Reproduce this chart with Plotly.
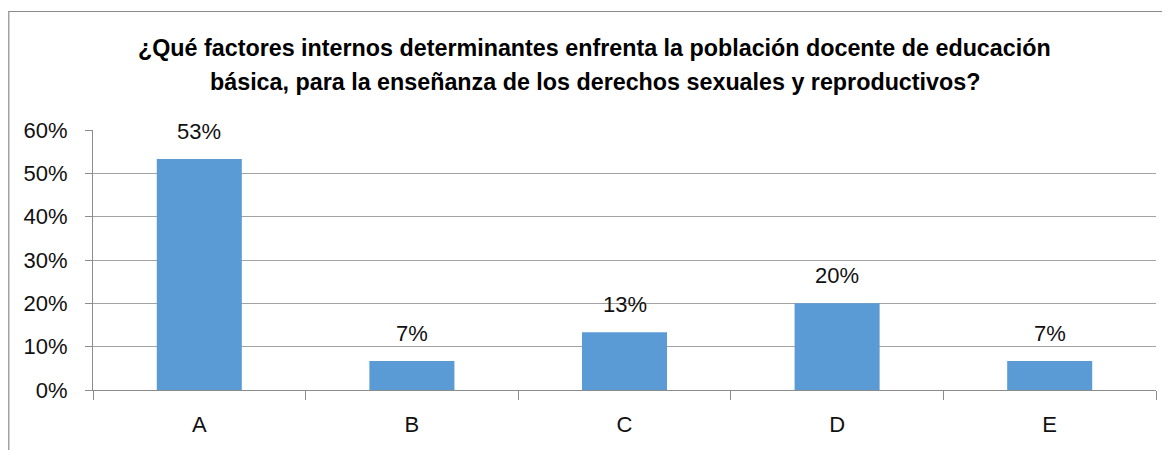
import plotly.graph_objects as go

categories = ["A", "B", "C", "D", "E"]
values = [0.533, 0.067, 0.133, 0.20, 0.067]
value_labels = ["53%", "7%", "13%", "20%", "7%"]
y_ticks = [0, 0.1, 0.2, 0.3, 0.4, 0.5, 0.6]
y_tick_labels = ["0%", "10%", "20%", "30%", "40%", "50%", "60%"]
title_lines = [
    "¿Qué factores internos determinantes enfrenta la población docente de educación",
    "básica, para la enseñanza de los derechos sexuales y reproductivos?",
]

OFF = 8  # page body margin offset
W, H = 1170 - OFF, 450 - OFF
L, R, T, B = 93 - OFF, 14, 130 - OFF, 60
pw, ph = W - L - R, H - T - B

def px_x(x):  # screen px -> paper x
    return (x - OFF - L) / pw

def px_y(y):  # screen px -> paper y
    return (H - B - (y - OFF)) / ph

FONT = "Liberation Sans"
BAR = "#5B9BD5"
GRID = "#a3a3a3"
AXIS = "#8c8c8c"
TXT = "#111111"

fig = go.Figure()
fig.add_trace(go.Bar(x=categories, y=values, marker=dict(color=BAR, line=dict(width=0)),
                     width=0.4, hoverinfo="skip"))

for c, v, t in zip(categories, values, value_labels):
    fig.add_annotation(x=c, y=v, text=t, showarrow=False, yanchor="bottom",
                       yshift=13, font=dict(family=FONT, size=22, color=TXT))

title_y = [48, 82]
for line, ypx in zip(title_lines, title_y):
    fig.add_annotation(xref="paper", yref="paper",
                       x=px_x(594.5), y=px_y(ypx),
                       text=f"<b>{line}</b>", showarrow=False,
                       xanchor="center", yanchor="middle",
                       font=dict(family=FONT, size=23.3, color="#000000"))

fig.add_shape(type="rect", xref="paper", yref="paper",
              x0=px_x(8.8), x1=px_x(1190),
              y0=px_y(480), y1=px_y(11.5),
              line=dict(color="#8a8a8a", width=1.2), fillcolor="rgba(0,0,0,0)", layer="below")

fig.update_layout(
    width=W, height=H,
    margin=dict(l=L, r=R, t=T, b=B),
    paper_bgcolor="white", plot_bgcolor="white",
    showlegend=False,
    bargap=0.6,
    xaxis=dict(type="category", tickson="boundaries", ticks="outside", ticklen=9,
               tickcolor=AXIS, showline=True, linecolor=AXIS, linewidth=1,
               showgrid=False, tickfont=dict(family=FONT, size=22, color=TXT),
               ticklabelstandoff=15, fixedrange=True),
    yaxis=dict(range=[0, 0.6], tickvals=y_ticks, ticktext=y_tick_labels,
               ticks="outside", ticklen=7, tickcolor=AXIS,
               showline=True, linecolor=AXIS, linewidth=1,
               showgrid=True, gridcolor=GRID, gridwidth=1, zeroline=False,
               tickfont=dict(family=FONT, size=22, color=TXT),
               ticklabelstandoff=13, fixedrange=True),
)

fig.write_html("out.html")
